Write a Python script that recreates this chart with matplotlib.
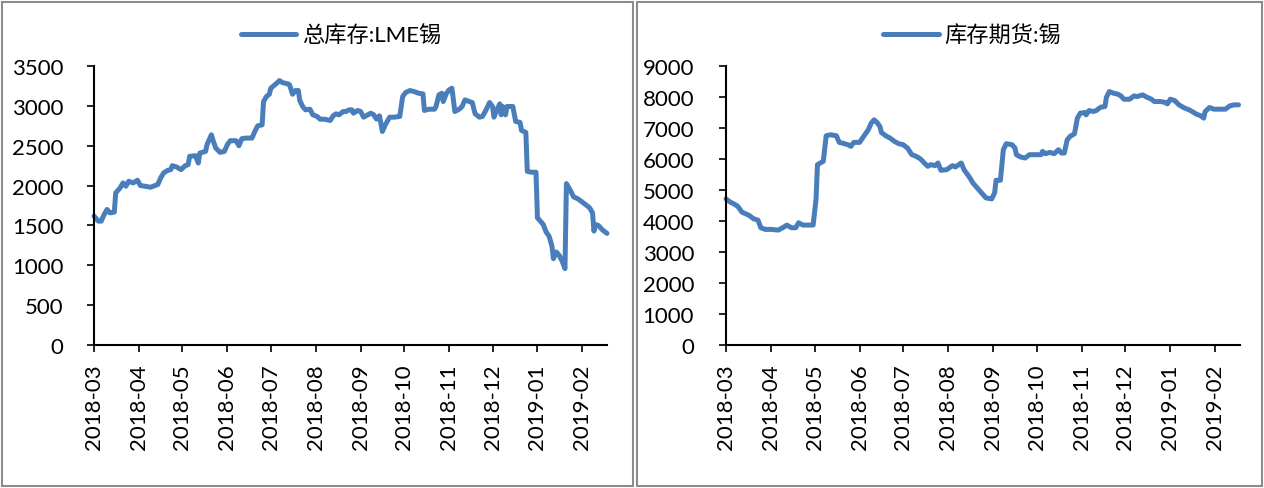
import matplotlib
matplotlib.use("Agg")
import matplotlib.pyplot as plt
import matplotlib.dates as mdates
from matplotlib.patches import Rectangle
import pandas as pd

plt.rcParams['font.family'] = ['Lato', 'Noto Sans CJK SC']

# ---------------- data ----------------
lme_dates = [
    "2018-03-01", "2018-03-04", "2018-03-06", "2018-03-08", "2018-03-10", "2018-03-12",
    "2018-03-15", "2018-03-16", "2018-03-19", "2018-03-21", "2018-03-23", "2018-03-25",
    "2018-03-28", "2018-03-31", "2018-04-02", "2018-04-05", "2018-04-09", "2018-04-12",
    "2018-04-14", "2018-04-16", "2018-04-18", "2018-04-21", "2018-04-23", "2018-04-24",
    "2018-04-27", "2018-04-30", "2018-05-03", "2018-05-05", "2018-05-06", "2018-05-10",
    "2018-05-12", "2018-05-13", "2018-05-17", "2018-05-18", "2018-05-21", "2018-05-22",
    "2018-05-24", "2018-05-27", "2018-05-30", "2018-06-01", "2018-06-03", "2018-06-06",
    "2018-06-07", "2018-06-09", "2018-06-11", "2018-06-14", "2018-06-18", "2018-06-20",
    "2018-06-22", "2018-06-25", "2018-06-26", "2018-06-28", "2018-06-30", "2018-07-01",
    "2018-07-05", "2018-07-07", "2018-07-09", "2018-07-13", "2018-07-14", "2018-07-16",
    "2018-07-18", "2018-07-20", "2018-07-21", "2018-07-23", "2018-07-25", "2018-07-28",
    "2018-07-30", "2018-08-02", "2018-08-04", "2018-08-07", "2018-08-11", "2018-08-13",
    "2018-08-15", "2018-08-17", "2018-08-20", "2018-08-22", "2018-08-24", "2018-08-26",
    "2018-08-27", "2018-08-30", "2018-09-01", "2018-09-03", "2018-09-06", "2018-09-08",
    "2018-09-10", "2018-09-12", "2018-09-14", "2018-09-16", "2018-09-18", "2018-09-21",
    "2018-09-24", "2018-09-28", "2018-09-30", "2018-10-02", "2018-10-05", "2018-10-08",
    "2018-10-11", "2018-10-14", "2018-10-15", "2018-10-18", "2018-10-22", "2018-10-23",
    "2018-10-25", "2018-10-27", "2018-10-28", "2018-10-30", "2018-11-01", "2018-11-03",
    "2018-11-05", "2018-11-08", "2018-11-10", "2018-11-12", "2018-11-15", "2018-11-17",
    "2018-11-19", "2018-11-22", "2018-11-24", "2018-11-26", "2018-11-29", "2018-12-01",
    "2018-12-02", "2018-12-04", "2018-12-06", "2018-12-07", "2018-12-08", "2018-12-10",
    "2018-12-11", "2018-12-15", "2018-12-17", "2018-12-20", "2018-12-21", "2018-12-24",
    "2018-12-25", "2018-12-28", "2018-12-31", "2019-01-01", "2019-01-03", "2019-01-05",
    "2019-01-07", "2019-01-09", "2019-01-11", "2019-01-12", "2019-01-14", "2019-01-16",
    "2019-01-18", "2019-01-20", "2019-01-21", "2019-01-24", "2019-01-26", "2019-01-29",
    "2019-02-01", "2019-02-04", "2019-02-06", "2019-02-08", "2019-02-09", "2019-02-10",
    "2019-02-12", "2019-02-15", "2019-02-18",
]
lme_values = [
    1617, 1554, 1554, 1637, 1700, 1658,
    1667, 1908, 1971, 2033, 1992, 2054,
    2033, 2067, 2000, 1992, 1979, 2000,
    2013, 2096, 2158, 2192, 2200, 2250,
    2233, 2200, 2250, 2262, 2367, 2375,
    2283, 2408, 2429, 2513, 2637, 2575,
    2471, 2417, 2429, 2513, 2563, 2563,
    2563, 2500, 2588, 2596, 2596, 2679,
    2750, 2762, 3054, 3117, 3146, 3221,
    3283, 3317, 3292, 3275, 3262, 3146,
    3192, 3192, 3067, 2992, 2950, 2958,
    2888, 2867, 2833, 2833, 2817, 2875,
    2900, 2888, 2929, 2929, 2950, 2950,
    2908, 2942, 2929, 2858, 2888, 2908,
    2888, 2833, 2875, 2679, 2762, 2858,
    2858, 2867, 3117, 3167, 3192, 3179,
    3158, 3150, 2942, 2958, 2958, 2992,
    3137, 3158, 3054, 3150, 3200, 3221,
    2929, 2958, 2992, 3075, 3054, 3042,
    2900, 2858, 2867, 2929, 3042, 2992,
    2858, 2950, 3025, 2888, 2992, 2888,
    2992, 2992, 2804, 2792, 2692, 2667,
    2179, 2167, 2167, 1596, 1554, 1512,
    1417, 1367, 1242, 1083, 1167, 1125,
    1054, 958, 2025, 1929, 1858, 1833,
    1792, 1750, 1721, 1658, 1429, 1512,
    1500, 1442, 1400,
]

shfe_dates = [
    "2018-03-01", "2018-03-04", "2018-03-06", "2018-03-09", "2018-03-12", "2018-03-14",
    "2018-03-17", "2018-03-20", "2018-03-23", "2018-03-25", "2018-03-28", "2018-04-01",
    "2018-04-06", "2018-04-09", "2018-04-12", "2018-04-15", "2018-04-18", "2018-04-20",
    "2018-04-23", "2018-04-27", "2018-04-30", "2018-05-02", "2018-05-03", "2018-05-07",
    "2018-05-09", "2018-05-12", "2018-05-16", "2018-05-18", "2018-05-20", "2018-05-24",
    "2018-05-26", "2018-05-28", "2018-06-01", "2018-06-03", "2018-06-07", "2018-06-09",
    "2018-06-11", "2018-06-13", "2018-06-15", "2018-06-16", "2018-06-19", "2018-06-22",
    "2018-06-25", "2018-06-28", "2018-07-01", "2018-07-04", "2018-07-07", "2018-07-10",
    "2018-07-13", "2018-07-16", "2018-07-18", "2018-07-20", "2018-07-23", "2018-07-25",
    "2018-07-27", "2018-07-31", "2018-08-04", "2018-08-06", "2018-08-10", "2018-08-12",
    "2018-08-14", "2018-08-16", "2018-08-18", "2018-08-21", "2018-08-24", "2018-08-27",
    "2018-08-31", "2018-09-02", "2018-09-03", "2018-09-06", "2018-09-08", "2018-09-10",
    "2018-09-14", "2018-09-16", "2018-09-17", "2018-09-20", "2018-09-23", "2018-09-26",
    "2018-09-30", "2018-10-04", "2018-10-05", "2018-10-07", "2018-10-10", "2018-10-13",
    "2018-10-16", "2018-10-18", "2018-10-20", "2018-10-22", "2018-10-24", "2018-10-27",
    "2018-10-29", "2018-10-31", "2018-11-03", "2018-11-04", "2018-11-06", "2018-11-09",
    "2018-11-11", "2018-11-14", "2018-11-17", "2018-11-18", "2018-11-20", "2018-11-23",
    "2018-11-26", "2018-11-28", "2018-11-30", "2018-12-04", "2018-12-07", "2018-12-09",
    "2018-12-13", "2018-12-15", "2018-12-19", "2018-12-21", "2018-12-25", "2018-12-28",
    "2018-12-30", "2019-01-01", "2019-01-04", "2019-01-07", "2019-01-11", "2019-01-14",
    "2019-01-16", "2019-01-19", "2019-01-22", "2019-01-24", "2019-01-25", "2019-01-28",
    "2019-01-31", "2019-02-05", "2019-02-08", "2019-02-11", "2019-02-14", "2019-02-17",
]
shfe_values = [
    4714, 4607, 4564, 4479, 4286, 4243,
    4179, 4071, 4029, 3782, 3729, 3729,
    3707, 3782, 3868, 3782, 3782, 3943,
    3868, 3868, 3868, 4693, 5818, 5925,
    6750, 6782, 6750, 6536, 6514, 6461,
    6407, 6536, 6536, 6675, 6943, 7157,
    7264, 7179, 7050, 6857, 6750, 6675,
    6568, 6493, 6461, 6354, 6139, 6086,
    6000, 5850, 5764, 5818, 5786, 5871,
    5636, 5657, 5786, 5743, 5871, 5650,
    5520, 5389, 5229, 5068, 4907, 4746,
    4714, 4907, 5314, 5314, 6300, 6493,
    6461, 6354, 6139, 6064, 6032, 6139,
    6139, 6139, 6246, 6171, 6214, 6171,
    6300, 6193, 6193, 6621, 6729, 6814,
    7318, 7479, 7500, 7425, 7564, 7532,
    7564, 7671, 7693, 7993, 8175, 8121,
    8089, 8036, 7928, 7928, 8036, 8014,
    8068, 8014, 7928, 7854, 7854, 7832,
    7779, 7928, 7886, 7746, 7639, 7586,
    7532, 7446, 7393, 7318, 7532, 7661,
    7607, 7607, 7607, 7714, 7746, 7746,
]

lme_label = "总库存:LME锡"
shfe_label = "库存期货:锡"
lme_yticks = [0, 500, 1000, 1500, 2000, 2500, 3000, 3500]
shfe_yticks = [0, 1000, 2000, 3000, 4000, 5000, 6000, 7000, 8000, 9000]
x_start, x_end = "2018-03-01", "2019-02-18"

# ---------------- style ----------------
W, H = 1264, 489
LINE_COLOR = "#4a7ebb"
FS = 16
LEG_FS = 16

fig = plt.figure(figsize=(W / 100, H / 100), dpi=100)
fig.patch.set_facecolor("white")

# panel borders
for (x0, x1) in [(2, 633), (637, 1262)]:
    fig.add_artist(Rectangle((x0 / W, 1 - 487 / H), (x1 - x0) / W, (487 - 3) / H,
                             transform=fig.transFigure, fill=False,
                             edgecolor="#8c8c8c", linewidth=1.5))


def make_panel(left_px, right_px, dates, values, label, yticks, legend_cx, ypad):
    ax = fig.add_axes([left_px / W, 1 - 346 / H, (right_px - left_px) / W, (346 - 67) / H])
    x = pd.to_datetime(dates)
    ax.plot(x, values, color=LINE_COLOR, linewidth=3.6, label=label,
            solid_joinstyle="round", solid_capstyle="round", clip_on=False)
    ax.set_xlim(pd.Timestamp(x_start), pd.Timestamp(x_end))
    ax.set_ylim(yticks[0], yticks[-1])
    ax.set_yticks(yticks)
    ax.xaxis.set_major_locator(mdates.MonthLocator())
    ax.xaxis.set_major_formatter(mdates.DateFormatter("%Y-%m"))
    for s in ["top", "right"]:
        ax.spines[s].set_visible(False)
    for s in ["left", "bottom"]:
        ax.spines[s].set_linewidth(1.5)
        ax.spines[s].set_color("black")
    ax.tick_params(axis="y", which="major", direction="out", length=5, width=1.2,
                   pad=ypad, labelsize=FS, labelcolor="black", color="black")
    ax.tick_params(axis="x", which="major", direction="out", length=5, width=1.2,
                   pad=8, labelsize=FS, labelcolor="black", color="black",
                   labelrotation=90)
    ax.patch.set_alpha(0)
    fig.legend(handles=ax.lines, labels=[label], loc="center",
               bbox_to_anchor=(legend_cx / W, 1 - 36 / H), frameon=False,
               prop={"size": LEG_FS}, handlelength=2.5, handletextpad=0.25,
               borderpad=0, borderaxespad=0)
    return ax


make_panel(94, 607, lme_dates, lme_values, lme_label, lme_yticks, 341, 17)
make_panel(726, 1240, shfe_dates, shfe_values, shfe_label, shfe_yticks, 972, 18)

fig.savefig("out.png", dpi=100, facecolor="white")
